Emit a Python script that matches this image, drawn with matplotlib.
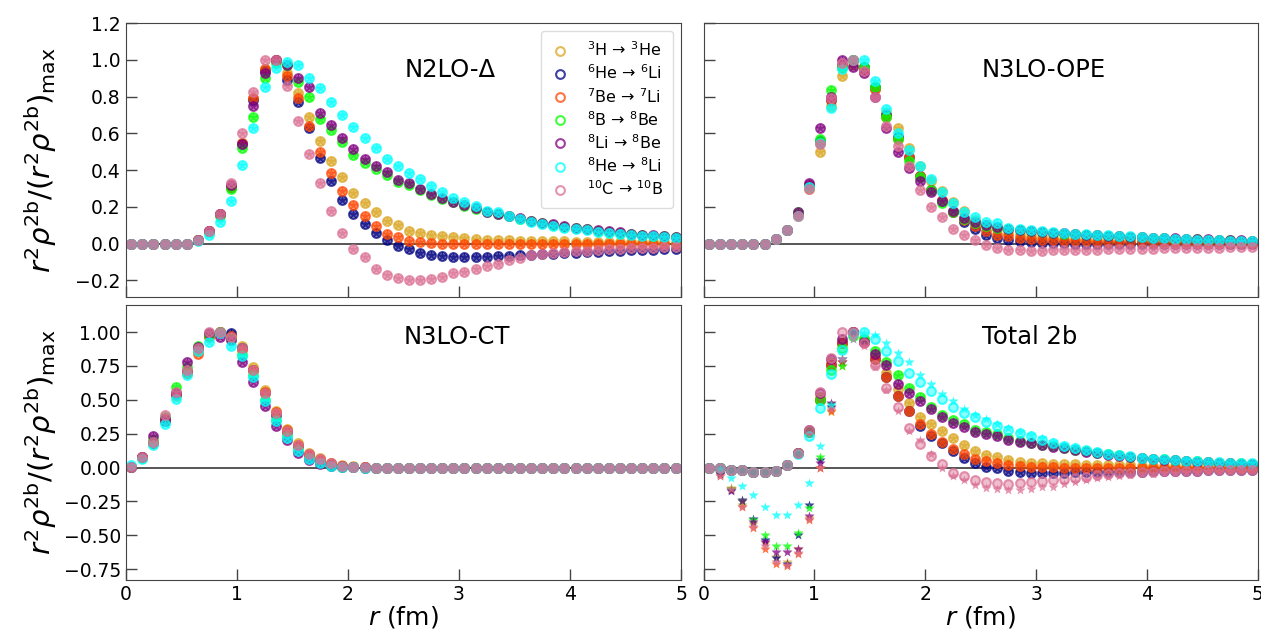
import numpy as np
import matplotlib
matplotlib.use("Agg")
import matplotlib.pyplot as plt

# radial grid (fm)
r = np.arange(0.05, 5.0, 0.1)

labels = [r'$^{3}$H → $^{3}$He', r'$^{6}$He → $^{6}$Li', r'$^{7}$Be → $^{7}$Li',
          r'$^{8}$B → $^{8}$Be', r'$^{8}$Li → $^{8}$Be', r'$^{8}$He → $^{8}$Li',
          r'$^{10}$C → $^{10}$B']
colors = ['goldenrod', 'navy', 'orangered', 'lime', 'purple', 'cyan', 'palevioletred']

# ---- N2LO-Delta ----
delta_h3 = [0, 0, 0, 0, 0, 0, 0.02, 0.07, 0.16, 0.31,
            0.55, 0.79, 0.95, 1.0, 0.93, 0.82, 0.69, 0.56, 0.45, 0.36,
            0.277, 0.223, 0.173, 0.124, 0.10, 0.07, 0.06, 0.048, 0.04, 0.034,
            0.029, 0.025, 0.022, 0.02, 0.018, 0.016, 0.015, 0.014, 0.013, 0.012,
            0.011, 0.01, 0.01, 0.009, 0.009, 0.008, 0.008, 0.007, 0.007, 0.006]
delta_he6 = [0, 0, 0, 0, 0, 0, 0.02, 0.07, 0.16, 0.31,
             0.54, 0.78, 0.94, 1.0, 0.89, 0.77, 0.63, 0.467, 0.34, 0.238,
             0.16, 0.106, 0.06, 0.02, -0.013, -0.03, -0.05, -0.062, -0.068, -0.071,
             -0.072, -0.072, -0.071, -0.069, -0.067, -0.064, -0.061, -0.058, -0.055, -0.052,
             -0.049, -0.046, -0.043, -0.041, -0.038, -0.036, -0.034, -0.032, -0.03, -0.028]
delta_be7 = [0, 0, 0, 0, 0, 0, 0.02, 0.07, 0.16, 0.31,
             0.55, 0.79, 0.95, 1.0, 0.91, 0.79, 0.64, 0.5, 0.385, 0.286,
             0.21, 0.15, 0.097, 0.052, 0.034, 0.016, 0.008, 0.003, 0.0, -0.002,
             -0.003, -0.004, -0.004, -0.004, -0.004, -0.004, -0.004, -0.003, -0.003, -0.003,
             -0.003, -0.002, -0.002, -0.002, -0.002, -0.002, -0.001, -0.001, -0.001, -0.001]
delta_b8 = [0, 0, 0, 0, 0, 0, 0.02, 0.065, 0.15, 0.3,
            0.52, 0.69, 0.9, 0.98, 0.97, 0.88, 0.8, 0.68, 0.62, 0.555,
            0.485, 0.44, 0.405, 0.375, 0.335, 0.32, 0.29, 0.265, 0.245, 0.225,
            0.205, 0.19, 0.172, 0.16, 0.148, 0.135, 0.122, 0.112, 0.102, 0.093,
            0.085, 0.078, 0.071, 0.065, 0.059, 0.054, 0.049, 0.044, 0.04, 0.036]
delta_li8 = [0, 0, 0, 0, 0, 0, 0.02, 0.07, 0.16, 0.32,
             0.54, 0.75, 0.93, 1.0, 0.97, 0.9, 0.85, 0.71, 0.647, 0.575,
             0.515, 0.46, 0.425, 0.39, 0.345, 0.33, 0.295, 0.27, 0.25, 0.225,
             0.21, 0.195, 0.175, 0.163, 0.152, 0.138, 0.125, 0.115, 0.105, 0.096,
             0.088, 0.08, 0.073, 0.067, 0.061, 0.055, 0.05, 0.046, 0.041, 0.037]
delta_he8 = [0, 0, 0, 0, 0, 0, 0.015, 0.045, 0.12, 0.23,
             0.43, 0.63, 0.85, 0.955, 0.99, 0.97, 0.9, 0.845, 0.77, 0.7,
             0.634, 0.575, 0.52, 0.46, 0.42, 0.385, 0.35, 0.313, 0.28, 0.25,
             0.225, 0.207, 0.18, 0.17, 0.153, 0.135, 0.117, 0.107, 0.097, 0.088,
             0.08, 0.073, 0.066, 0.06, 0.054, 0.049, 0.044, 0.04, 0.036, 0.032]
delta_c10 = [0, 0, 0, 0, 0, 0, 0.02, 0.07, 0.16, 0.33,
             0.6, 0.825, 1.0, 1.0, 0.86, 0.665, 0.49, 0.33, 0.18, 0.06,
             -0.027, -0.075, -0.135, -0.17, -0.189, -0.195, -0.198, -0.19, -0.18, -0.162,
             -0.153, -0.135, -0.122, -0.108, -0.09, -0.076, -0.063, -0.056, -0.05, -0.045,
             -0.041, -0.037, -0.034, -0.031, -0.028, -0.026, -0.024, -0.022, -0.02, -0.018]

# ---- N3LO-OPE ----
ope_h3 = [0, 0, 0, 0, 0, 0, 0.027, 0.072, 0.15, 0.3,
          0.5, 0.75, 0.91, 0.97, 0.94, 0.84, 0.71, 0.63, 0.52, 0.42,
          0.34, 0.286, 0.226, 0.18, 0.13, 0.1, 0.078, 0.06, 0.048, 0.04,
          0.034, 0.03, 0.027, 0.024, 0.022, 0.02, 0.018, 0.017, 0.016, 0.015,
          0.014, 0.013, 0.012, 0.011, 0.01, 0.01, 0.009, 0.009, 0.008, 0.008]
ope_he6 = [0, 0, 0, 0, 0, 0, 0.027, 0.072, 0.16, 0.32,
           0.56, 0.78, 0.97, 1.0, 0.96, 0.85, 0.7, 0.58, 0.47, 0.37,
           0.29, 0.23, 0.17, 0.12, 0.08, 0.05, 0.03, 0.02, 0.012, 0.008,
           0.005, 0.003, 0.002, 0.001, 0, 0, -0.001, -0.001, -0.001, -0.001,
           -0.001, -0.001, -0.001, -0.001, -0.001, 0, 0, 0, 0, 0]
ope_be7 = [0, 0, 0, 0, 0, 0, 0.027, 0.072, 0.16, 0.32,
           0.55, 0.78, 0.96, 1.0, 0.95, 0.84, 0.69, 0.57, 0.47, 0.37,
           0.29, 0.235, 0.175, 0.13, 0.095, 0.068, 0.05, 0.04, 0.032, 0.026,
           0.022, 0.019, 0.016, 0.014, 0.012, 0.011, 0.01, 0.009, 0.008, 0.007,
           0.006, 0.006, 0.005, 0.005, 0.004, 0.004, 0.004, 0.003, 0.003, 0.003]
ope_b8 = [0, 0, 0, 0, 0, 0, 0.027, 0.072, 0.17, 0.31,
          0.57, 0.835, 0.96, 1.0, 0.96, 0.85, 0.69, 0.57, 0.45, 0.36,
          0.29, 0.22, 0.17, 0.135, 0.11, 0.095, 0.085, 0.078, 0.072, 0.067,
          0.062, 0.058, 0.054, 0.051, 0.048, 0.045, 0.042, 0.04, 0.037, 0.035,
          0.032, 0.03, 0.028, 0.026, 0.024, 0.022, 0.02, 0.018, 0.017, 0.015]
ope_li8 = [0, 0, 0, 0, 0, 0, 0.027, 0.072, 0.17, 0.33,
           0.63, 0.8, 1.0, 0.96, 0.93, 0.8, 0.63, 0.5, 0.41, 0.34,
           0.28, 0.23, 0.18, 0.14, 0.12, 0.1, 0.09, 0.08, 0.075, 0.07,
           0.065, 0.06, 0.056, 0.052, 0.049, 0.046, 0.043, 0.04, 0.038, 0.035,
           0.033, 0.031, 0.029, 0.027, 0.025, 0.023, 0.021, 0.019, 0.018, 0.016]
ope_he8 = [0, 0, 0, 0, 0, 0, 0.027, 0.072, 0.15, 0.31,
           0.55, 0.74, 0.95, 1.0, 1.0, 0.886, 0.73, 0.6, 0.51, 0.42,
           0.35, 0.28, 0.22, 0.17, 0.145, 0.12, 0.11, 0.087, 0.08, 0.076,
           0.069, 0.063, 0.06, 0.055, 0.052, 0.049, 0.046, 0.043, 0.04, 0.036,
           0.033, 0.03, 0.027, 0.025, 0.022, 0.02, 0.018, 0.016, 0.014, 0.012]
ope_c10 = [0, 0, 0, 0, 0, 0, 0.027, 0.072, 0.15, 0.3,
           0.54, 0.79, 0.98, 1.0, 0.94, 0.8, 0.64, 0.53, 0.42, 0.29,
           0.2, 0.145, 0.08, 0.045, 0.02, -0.005, -0.025, -0.033, -0.036, -0.037,
           -0.037, -0.036, -0.035, -0.034, -0.033, -0.032, -0.031, -0.03, -0.029, -0.028,
           -0.027, -0.026, -0.025, -0.024, -0.023, -0.022, -0.021, -0.02, -0.019, -0.018]

# ---- N3LO-CT ----
ct_h3 = [0.005, 0.08, 0.18, 0.35, 0.53, 0.7, 0.86, 0.97, 1.0, 0.98,
         0.9, 0.74, 0.575, 0.42, 0.284, 0.18, 0.11, 0.07, 0.037, 0.02,
         0.008, 0.003, 0, 0, 0, 0, 0, 0, 0, 0,
         0, 0, 0, 0, 0, 0, 0, 0, 0, 0,
         0, 0, 0, 0, 0, 0, 0, 0, 0, 0]
ct_he6 = [0.005, 0.08, 0.18, 0.34, 0.54, 0.71, 0.88, 0.98, 1.0, 0.995,
          0.88, 0.72, 0.55, 0.39, 0.26, 0.16, 0.09, 0.05, 0.025, 0.01,
          0.004, 0.001, 0, 0, 0, 0, 0, 0, 0, 0,
          0, 0, 0, 0, 0, 0, 0, 0, 0, 0,
          0, 0, 0, 0, 0, 0, 0, 0, 0, 0]
ct_be7 = [0.005, 0.08, 0.18, 0.35, 0.54, 0.7, 0.835, 0.96, 1.0, 0.97,
          0.87, 0.72, 0.56, 0.41, 0.28, 0.17, 0.1, 0.06, 0.03, 0.012,
          0.005, 0.002, 0, 0, 0, 0, 0, 0, 0, 0,
          0, 0, 0, 0, 0, 0, 0, 0, 0, 0,
          0, 0, 0, 0, 0, 0, 0, 0, 0, 0]
ct_b8 = [0.005, 0.07, 0.2, 0.37, 0.595, 0.74, 0.9, 0.98, 1.0, 0.95,
         0.83, 0.68, 0.5, 0.35, 0.23, 0.13, 0.07, 0.035, 0.015, 0.005,
         0.002, 0, 0, 0, 0, 0, 0, 0, 0, 0,
         0, 0, 0, 0, 0, 0, 0, 0, 0, 0,
         0, 0, 0, 0, 0, 0, 0, 0, 0, 0]
ct_li8 = [0.005, 0.08, 0.235, 0.36, 0.55, 0.78, 0.89, 0.99, 0.965, 0.94,
          0.78, 0.63, 0.457, 0.31, 0.205, 0.11, 0.055, 0.025, 0.01, 0.003,
          0.001, 0, 0, 0, 0, 0, 0, 0, 0, 0,
          0, 0, 0, 0, 0, 0, 0, 0, 0, 0,
          0, 0, 0, 0, 0, 0, 0, 0, 0, 0]
ct_he8 = [0.02, 0.06, 0.17, 0.32, 0.505, 0.68, 0.86, 0.93, 0.99, 0.9,
          0.82, 0.67, 0.49, 0.34, 0.22, 0.12, 0.06, 0.03, 0.012, 0.004,
          0.001, 0, 0, 0, 0, 0, 0, 0, 0, 0,
          0, 0, 0, 0, 0, 0, 0, 0, 0, 0,
          0, 0, 0, 0, 0, 0, 0, 0, 0, 0]
ct_c10 = [0.005, 0.08, 0.19, 0.39, 0.56, 0.72, 0.88, 1.0, 1.0, 0.96,
          0.88, 0.72, 0.55, 0.4, 0.27, 0.17, 0.1, 0.06, 0.03, 0.012,
          0.005, 0.002, 0, 0, 0, 0, 0, 0, 0, 0,
          0, 0, 0, 0, 0, 0, 0, 0, 0, 0,
          0, 0, 0, 0, 0, 0, 0, 0, 0, 0]

# ---- Total 2b (circles) ----
tot_h3 = [0, -0.005, -0.015, -0.02, -0.03, -0.034, -0.022, 0.02, 0.11, 0.27,
          0.52, 0.78, 0.93, 1.0, 0.95, 0.83, 0.7, 0.58, 0.475, 0.37,
          0.32, 0.27, 0.22, 0.17, 0.125, 0.095, 0.076, 0.057, 0.044, 0.036,
          0.03, 0.027, 0.025, 0.023, 0.021, 0.02, 0.018, 0.017, 0.016, 0.015,
          0.014, 0.013, 0.012, 0.011, 0.01, 0.009, 0.008, 0.007, 0.006, 0.005]
tot_he6 = [0, -0.005, -0.015, -0.02, -0.03, -0.034, -0.022, 0.02, 0.11, 0.26,
           0.5, 0.76, 0.92, 1.0, 0.93, 0.8, 0.67, 0.525, 0.415, 0.31,
           0.23, 0.18, 0.12, 0.07, 0.03, 0.007, -0.005, -0.025, -0.035, -0.037,
           -0.038, -0.038, -0.037, -0.036, -0.035, -0.034, -0.033, -0.032, -0.031, -0.03,
           -0.029, -0.027, -0.026, -0.024, -0.023, -0.021, -0.02, -0.018, -0.017, -0.015]
tot_be7 = [0, -0.005, -0.015, -0.02, -0.03, -0.034, -0.022, 0.02, 0.11, 0.26,
           0.5, 0.76, 0.92, 1.0, 0.93, 0.8, 0.67, 0.53, 0.42, 0.32,
           0.25, 0.19, 0.14, 0.1, 0.065, 0.045, 0.03, 0.02, 0.012, 0.007,
           0.003, 0.001, 0, -0.001, -0.001, -0.002, -0.002, -0.002, -0.002, -0.002,
           -0.002, -0.002, -0.002, -0.001, -0.001, -0.001, -0.001, -0.001, -0.001, 0]
tot_b8 = [0, -0.005, -0.015, -0.02, -0.03, -0.034, -0.022, 0.02, 0.11, 0.27,
          0.5, 0.72, 0.88, 0.97, 0.95, 0.86, 0.78, 0.68, 0.59, 0.52,
          0.45, 0.39, 0.35, 0.32, 0.28, 0.26, 0.245, 0.215, 0.195, 0.183,
          0.17, 0.157, 0.145, 0.132, 0.12, 0.108, 0.098, 0.089, 0.081, 0.073,
          0.066, 0.06, 0.055, 0.05, 0.045, 0.041, 0.037, 0.033, 0.03, 0.027]
tot_li8 = [0, -0.005, -0.015, -0.02, -0.03, -0.034, -0.022, 0.02, 0.11, 0.28,
           0.55, 0.8, 0.95, 1.0, 0.93, 0.84, 0.76, 0.62, 0.55, 0.49,
           0.43, 0.37, 0.33, 0.3, 0.265, 0.25, 0.235, 0.205, 0.19, 0.178,
           0.165, 0.153, 0.141, 0.129, 0.117, 0.106, 0.096, 0.087, 0.079, 0.071,
           0.064, 0.058, 0.053, 0.048, 0.044, 0.04, 0.036, 0.032, 0.029, 0.026]
tot_he8 = [0, -0.005, -0.015, -0.02, -0.03, -0.034, -0.022, 0.02, 0.1, 0.23,
           0.44, 0.69, 0.87, 0.99, 1.0, 0.95, 0.86, 0.79, 0.7, 0.635,
           0.565, 0.505, 0.45, 0.4, 0.37, 0.335, 0.305, 0.28, 0.255, 0.23,
           0.205, 0.18, 0.158, 0.143, 0.126, 0.113, 0.1, 0.094, 0.082, 0.074,
           0.066, 0.06, 0.055, 0.05, 0.046, 0.042, 0.038, 0.035, 0.032, 0.03]
tot_c10 = [0, -0.005, -0.015, -0.02, -0.03, -0.034, -0.022, 0.02, 0.11, 0.28,
           0.56, 0.81, 1.0, 1.0, 0.92, 0.755, 0.59, 0.445, 0.29, 0.175,
           0.086, 0.025, -0.037, -0.066, -0.09, -0.11, -0.115, -0.12, -0.115, -0.11,
           -0.1, -0.095, -0.086, -0.08, -0.067, -0.054, -0.05, -0.042, -0.04, -0.035,
           -0.032, -0.029, -0.027, -0.025, -0.023, -0.021, -0.019, -0.018, -0.016, -0.015]

# Total 2b stars: small-r part (r <= 1.25 fm), the rest sits on the circles
tot_h3_star_head = [0, -0.04, -0.15, -0.28, -0.42, -0.56, -0.66, -0.7, -0.6, -0.37, 0.0, 0.41, 0.75]
tot_he6_star_head = [0, -0.05, -0.165, -0.24, -0.38, -0.535, -0.67, -0.71, -0.5, -0.28, 0.055, 0.45, 0.78]
tot_be7_star_head = [0, -0.06, -0.16, -0.29, -0.45, -0.6, -0.71, -0.73, -0.64, -0.39, 0.0, 0.42, 0.78]
tot_b8_star_head = [0, -0.04, -0.155, -0.25, -0.39, -0.5, -0.58, -0.58, -0.48, -0.3, 0.075, 0.47, 0.75]
tot_li8_star_head = [0, -0.05, -0.17, -0.25, -0.4, -0.55, -0.62, -0.62, -0.6, -0.36, 0.03, 0.48, 0.8]
tot_he8_star = [0, -0.01, -0.08, -0.135, -0.2, -0.29, -0.35, -0.35, -0.28, -0.115,
                0.16, 0.46, 0.8, 0.95, 0.99, 0.98, 0.92, 0.845, 0.78, 0.68,
                0.62, 0.54, 0.49, 0.43, 0.39, 0.36, 0.32, 0.29, 0.265, 0.24,
                0.215, 0.19, 0.168, 0.15, 0.133, 0.119, 0.106, 0.097, 0.087, 0.078,
                0.07, 0.064, 0.058, 0.053, 0.048, 0.044, 0.04, 0.037, 0.034, 0.031]
tot_c10_star = [0, -0.06, -0.16, -0.29, -0.44, -0.58, -0.7, -0.72, -0.63, -0.38,
                0.0, 0.43, 0.8, 0.95, 0.9, 0.74, 0.57, 0.42, 0.27, 0.2,
                0.1, 0.0, -0.06, -0.09, -0.13, -0.15, -0.16, -0.165, -0.165, -0.16,
                -0.145, -0.14, -0.125, -0.11, -0.09, -0.08, -0.07, -0.06, -0.055, -0.05,
                -0.045, -0.041, -0.037, -0.034, -0.031, -0.028, -0.025, -0.023, -0.021, -0.02]

delta = [delta_h3, delta_he6, delta_be7, delta_b8, delta_li8, delta_he8, delta_c10]
ope = [ope_h3, ope_he6, ope_be7, ope_b8, ope_li8, ope_he8, ope_c10]
ct = [ct_h3, ct_he6, ct_be7, ct_b8, ct_li8, ct_he8, ct_c10]
tot = [tot_h3, tot_he6, tot_be7, tot_b8, tot_li8, tot_he8, tot_c10]
tot_star = [tot_h3_star_head + tot_h3[13:], tot_he6_star_head + tot_he6[13:],
            tot_be7_star_head + tot_be7[13:], tot_b8_star_head + tot_b8[13:],
            tot_li8_star_head + tot_li8[13:], tot_he8_star, tot_c10_star]

frame = '#444444'
fig = plt.figure(figsize=(12.61, 6.34), dpi=100)
ax_tl = fig.add_axes([0.0997, 0.5315, 0.4404, 0.4322])
ax_tr = fig.add_axes([0.5579, 0.5315, 0.4397, 0.4322])
ax_bl = fig.add_axes([0.0997, 0.0852, 0.4404, 0.4338])
ax_br = fig.add_axes([0.5579, 0.0852, 0.4397, 0.4338])

panels = [(ax_tl, delta, delta, 'N2LO-Δ', (0.584, 0.828)),
          (ax_tr, ope, ope, 'N3LO-OPE', (0.614, 0.828)),
          (ax_bl, ct, ct, 'N3LO-CT', (0.597, 0.882)),
          (ax_br, tot, tot_star, 'Total 2b', (0.589, 0.882))]

handles = []
for ax, circ, stars, title, pos in panels:
    ax.axhline(0, color='#555555', lw=1.4, zorder=0)
    for i, c in enumerate(colors):
        ax.plot(r, circ[i], 'o', color=c, ms=6.3, alpha=0.45, mec='none')
        h, = ax.plot(r, circ[i], 'o', mfc='none', mec=c, mew=1.5, ms=6.3,
                     alpha=0.75, label=labels[i])
        ax.plot(r, stars[i], '*', color=c, ms=7, alpha=0.75, mec='none')
        if ax is ax_tl:
            handles.append(h)
    ax.text(pos[0], pos[1], title, transform=ax.transAxes, ha='center', va='center',
            fontsize=17.5)
    ax.set_xlim(0, 5)
    ax.set_xticks([0, 1, 2, 3, 4, 5])
    ax.tick_params(direction='in', length=8, width=1, color=frame, labelsize=13.5)
    for s in ax.spines.values():
        s.set_color(frame)

for ax in (ax_tl, ax_tr):
    ax.set_ylim(-0.29, 1.2)
    ax.set_yticks([-0.2, 0.0, 0.2, 0.4, 0.6, 0.8, 1.0, 1.2])
    ax.tick_params(labelbottom=False)
for ax in (ax_bl, ax_br):
    ax.set_ylim(-0.83, 1.2)
    ax.set_yticks([-0.75, -0.5, -0.25, 0.0, 0.25, 0.5, 0.75, 1.0])
    ax.set_xlabel(r'$r$ (fm)', fontsize=18, labelpad=0)
for ax in (ax_tr, ax_br):
    ax.tick_params(labelleft=False)

ylab = r'$r^2\rho^{2\mathrm{b}}/(r^2\rho^{2\mathrm{b}})_{\mathrm{max}}$'
for ax in (ax_tl, ax_bl):
    ax.set_ylabel(ylab, fontsize=21)
    ax.yaxis.set_label_coords(-0.12, 0.5)

ax_tl.legend(handles=handles, loc='upper right', fontsize=11.5, handlelength=1.2,
             handletextpad=1.1, labelspacing=0.28, borderpad=0.6, edgecolor='#dddddd',
             framealpha=1.0)

fig.savefig('out.png', dpi=100)
